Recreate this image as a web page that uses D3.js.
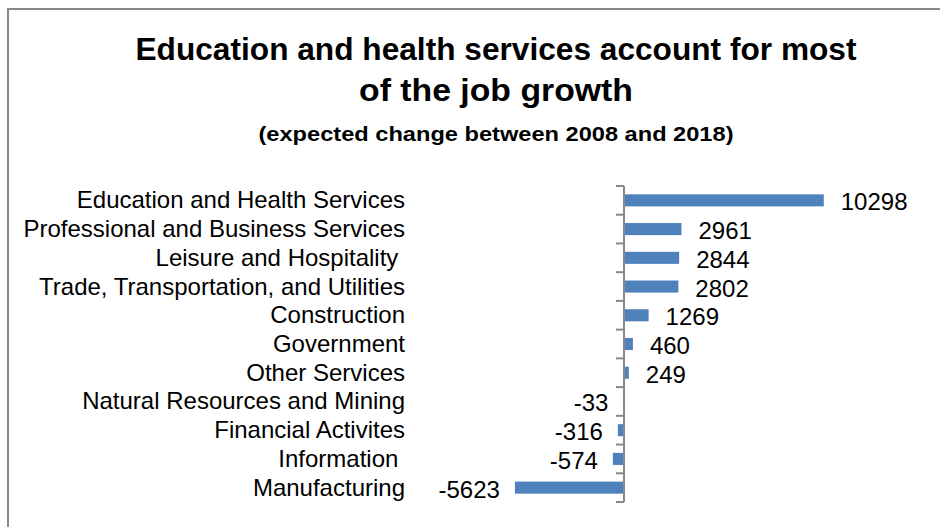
<!DOCTYPE html>
<html>
<head>
<meta charset="utf-8">
<script src="https://cdn.jsdelivr.net/npm/d3@7"></script>
<style>
  body { margin: 0; background: #fff; }
  svg { display: block; font-family: "Liberation Sans", Arial, sans-serif; }
</style>
</head>
<body>
<div id="chart"></div>
<script>
var categories = [
    'Education and Health Services',
    'Professional and Business Services',
    'Leisure and Hospitality ',
    'Trade, Transportation, and Utilities',
    'Construction',
    'Government',
    'Other Services',
    'Natural Resources and Mining',
    'Financial Activites',
    'Information ',
    'Manufacturing'
];
var values = [10298, 2961, 2844, 2802, 1269, 460, 249, -33, -316, -574, -5623];
var titleLines = [
    'Education and health services account for most',
    'of the job growth'
];
var subtitle = '(expected change between 2008 and 2018)';

var width = 940;
var height = 527;
var zeroX = 624;
var pxPerUnit = 0.0194;
var barColor = '#4f81bd';
var axisColor = '#898989';

var dataset = categories.map(function (c, i) { return {label: c, value: values[i]}; });

var svg = d3.select('#chart')
    .append('svg')
    .attr('width', width)
    .attr('height', height);

svg.append('rect')
    .attr('width', width)
    .attr('height', height)
    .attr('fill', '#fff');

// chart frame (only top and left edges visible in the crop)
svg.append('path')
    .attr('d', 'M8,' + height + 'V9H' + width)
    .attr('fill', 'none')
    .attr('stroke', axisColor)
    .attr('stroke-width', 2);

// titles
var titleX = 496;
svg.append('text')
    .attr('x', titleX).attr('y', 60)
    .attr('text-anchor', 'middle')
    .attr('font-weight', 'bold')
    .attr('font-size', 31)
    .attr('textLength', 721)
    .attr('lengthAdjust', 'spacingAndGlyphs')
    .text(titleLines[0]);

svg.append('text')
    .attr('x', titleX).attr('y', 101)
    .attr('text-anchor', 'middle')
    .attr('font-weight', 'bold')
    .attr('font-size', 31)
    .attr('textLength', 274)
    .attr('lengthAdjust', 'spacingAndGlyphs')
    .text(titleLines[1]);

svg.append('text')
    .attr('x', titleX).attr('y', 141)
    .attr('text-anchor', 'middle')
    .attr('font-weight', 'bold')
    .attr('font-size', 21)
    .attr('textLength', 475)
    .attr('lengthAdjust', 'spacingAndGlyphs')
    .text(subtitle);

// scales
var x = d3.scaleLinear()
    .domain([-6000, 12000])
    .range([zeroX - 6000 * pxPerUnit, zeroX + 12000 * pxPerUnit]);

var y = d3.scaleBand()
    .domain(categories)
    .range([186, 502])
    .paddingInner(0.58)
    .paddingOuter(0.29);

var bandMid = function (d) { return y(d) + y.bandwidth() / 2; };

// bars
svg.selectAll('.bar')
    .data(dataset)
    .enter()
    .append('rect')
    .attr('class', 'bar')
    .attr('x', function (d) { return x(Math.min(0, d.value)); })
    .attr('y', function (d) { return y(d.label); })
    .attr('width', function (d) { return Math.abs(x(d.value) - x(0)); })
    .attr('height', y.bandwidth())
    .attr('fill', barColor);

// vertical category axis with ticks between categories
var tickYs = categories.map(function (c) { return y(c) - y.step() * y.paddingInner() / 2; });
tickYs.push(y.range()[1]);

svg.append('line')
    .attr('x1', x(0)).attr('x2', x(0))
    .attr('y1', y.range()[0]).attr('y2', y.range()[1])
    .attr('stroke', axisColor)
    .attr('stroke-width', 2);

svg.selectAll('.tick')
    .data(tickYs)
    .enter()
    .append('line')
    .attr('class', 'tick')
    .attr('x1', x(0) - 8).attr('x2', x(0))
    .attr('y1', function (d) { return d; })
    .attr('y2', function (d) { return d; })
    .attr('stroke', axisColor)
    .attr('stroke-width', 2);

// category labels
svg.selectAll('.cat')
    .data(dataset)
    .enter()
    .append('text')
    .attr('class', 'cat')
    .attr('x', 405)
    .attr('y', function (d) { return bandMid(d.label) + 8; })
    .attr('text-anchor', 'end')
    .attr('font-size', 24)
    .style('white-space', 'pre')
    .text(function (d) { return d.label; });

// value labels
svg.selectAll('.val')
    .data(dataset)
    .enter()
    .append('text')
    .attr('class', 'val')
    .attr('x', function (d) { return d.value >= 0 ? x(d.value) + 17 : x(d.value) - 15; })
    .attr('y', function (d) { return bandMid(d.label) + 10; })
    .attr('text-anchor', function (d) { return d.value >= 0 ? 'start' : 'end'; })
    .attr('font-size', 24)
    .text(function (d) { return d.value; });
</script>
</body>
</html>
